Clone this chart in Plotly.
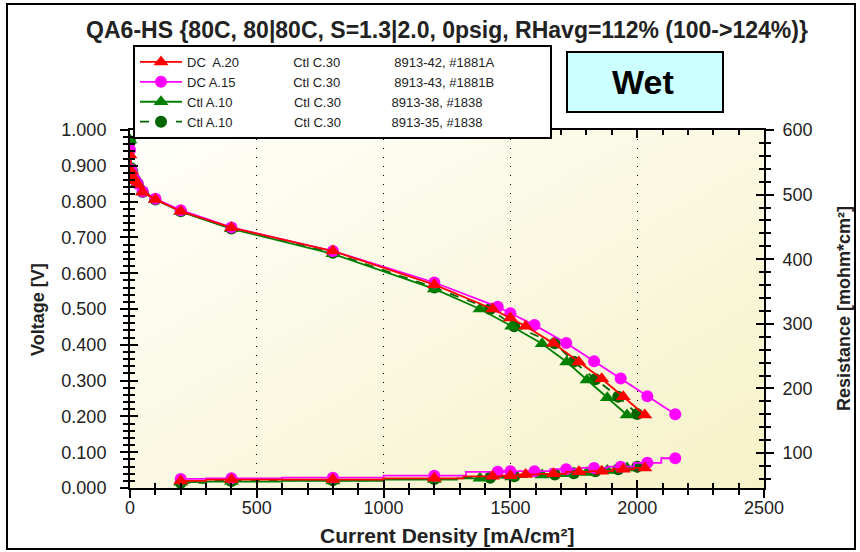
import base64
import plotly.graph_objects as go

TITLE = "QA6-HS {80C, 80|80C, S=1.3|2.0, 0psig, RHavg=112% (100->124%)}"

# ---- polarization curves: current density [mA/cm²] -> cell voltage [V]
i_dc20 = [0, 5, 10, 20, 30, 50, 100, 200, 400, 800, 1200, 1430, 1500, 1560, 1670, 1770, 1860, 1945, 2030]
v_dc20 = [0.930, 0.885, 0.870, 0.858, 0.848, 0.826, 0.806, 0.773, 0.727, 0.662, 0.568, 0.500, 0.475, 0.452, 0.404, 0.352, 0.305, 0.255, 0.204]

i_dc15 = [0, 5, 10, 20, 30, 50, 100, 200, 400, 800, 1200, 1450, 1500, 1595, 1720, 1830, 1935, 2040, 2150]
v_dc15 = [0.944, 0.890, 0.875, 0.860, 0.850, 0.828, 0.808, 0.776, 0.728, 0.662, 0.574, 0.506, 0.488, 0.455, 0.405, 0.354, 0.306, 0.256, 0.206]

i_ctl38 = [0, 5, 10, 20, 30, 50, 100, 200, 400, 800, 1200, 1380, 1505, 1625, 1722, 1802, 1882, 1960]
v_ctl38 = [0.972, 0.895, 0.878, 0.862, 0.852, 0.828, 0.806, 0.772, 0.724, 0.654, 0.556, 0.500, 0.452, 0.403, 0.352, 0.302, 0.252, 0.204]

i_ctl35 = [0, 5, 10, 20, 30, 50, 100, 200, 400, 800, 1200, 1420, 1515, 1675, 1750, 1835, 1925, 2000]
v_ctl35 = [0.968, 0.893, 0.877, 0.861, 0.851, 0.827, 0.806, 0.773, 0.725, 0.657, 0.560, 0.500, 0.452, 0.404, 0.353, 0.304, 0.255, 0.207]

# ---- high-frequency resistance [mohm*cm²]
ir_dc20 = [200, 400, 800, 1200, 1430, 1500, 1560, 1670, 1770, 1860, 1945, 2030]
r_dc20 = [57, 59, 59, 61, 64, 65, 67, 68, 71, 72, 75, 77]

ir_dc15 = [200, 400, 800, 1200, 1450, 1500, 1595, 1720, 1830, 1935, 2040, 2150]
r_dc15 = [60, 61, 62, 65, 71, 72, 72, 75, 77, 79, 85, 92]

ir_ctl38 = [200, 400, 800, 1200, 1380, 1505, 1625, 1722, 1802, 1882, 1960]
r_ctl38 = [55, 56, 57, 59, 61, 63, 66, 68, 70, 73, 77]

ir_ctl35 = [200, 400, 800, 1200, 1420, 1515, 1675, 1750, 1835, 1925, 2000]
r_ctl35 = [54, 57, 58, 60, 62, 64, 67, 69, 72, 75, 79]

# ---- legend columns
anode_labels = ["DC  A.20", "DC A.15", "Ctl A.10", "Ctl A.10"]
cathode_labels = ["Ctl C.30", "Ctl C.30", "Ctl C.30", "Ctl C.30"]
cell_labels = ["8913-42, #1881A", "8913-43, #1881B", "8913-38, #1838", "8913-35, #1838"]

FONT = "Liberation Sans, Arial, sans-serif"
LEG_SIZE = 13

# Arial/Liberation Sans advance widths (1/1000 em) for padding legend columns
_W = {"D": 722, "C": 722, "A": 667, "B": 667, ".": 278, "t": 278, "l": 222,
      " ": 278, "\u00a0": 278, "-": 333, ",": 278, "#": 556}


def text_width(s, size):
    return sum(_W.get(ch, 556) for ch in s) * size / 1000.0


def pad_to(s, target_px, size):
    gap = target_px - text_width(s, size)
    n = max(1, int(round(gap / (0.278 * size))))
    return s + "\u00a0" * n


def legend_name(a, c, cell):
    first = pad_to(a, 107, LEG_SIZE)
    second = pad_to(first + c, 207, LEG_SIZE)
    return pad_to(second + cell, 357, LEG_SIZE)


names = [legend_name(a, c, n) for a, c, n in zip(anode_labels, cathode_labels, cell_labels)]

# plot-area geometry (px) used to place boxes given in page pixels
W, H = 860, 552
L, R, T, B = 130, 96, 130, 64
PW, PH = W - L - R, H - T - B


def px_x(px):
    return (px - L) / PW


def px_y(py):
    return (H - B - py) / PH


series = [
    # (name, I, V, I_r, R, color, symbol, dash)
    (names[3], i_ctl35, v_ctl35, ir_ctl35, r_ctl35, "#006400", "circle", "dash"),
    (names[2], i_ctl38, v_ctl38, ir_ctl38, r_ctl38, "#008000", "triangle-up", "solid"),
    (names[1], i_dc15, v_dc15, ir_dc15, r_dc15, "#FF00FF", "circle", "solid"),
    (names[0], i_dc20, v_dc20, ir_dc20, r_dc20, "#FF0000", "triangle-up", "solid"),
]

fig = go.Figure()
for name, I, V, IR, RR, col, sym, dash in series:
    msize = 12 if sym == "circle" else 13
    fig.add_trace(go.Scatter(
        x=I, y=V, name=name, mode="lines+markers",
        line=dict(color=col, width=1.8, dash=dash),
        marker=dict(symbol=sym, size=msize, color=col),
        legendgroup=name, xaxis="x", yaxis="y",
    ))
for name, I, V, IR, RR, col, sym, dash in series:
    msize = 12 if sym == "circle" else 13
    fig.add_trace(go.Scatter(
        x=IR, y=RR, name=name, mode="lines+markers",
        line=dict(color=col, width=1.8, dash=dash, shape="hvh"),
        marker=dict(symbol=sym, size=msize, color=col),
        legendgroup=name, showlegend=False, xaxis="x", yaxis="y2",
    ))

# empty traces that register the overlay axes carrying the inner tick marks
fig.add_trace(go.Scatter(x=[], y=[], xaxis="x2", yaxis="y3", showlegend=False, hoverinfo="skip"))
fig.add_trace(go.Scatter(x=[], y=[], xaxis="x", yaxis="y4", showlegend=False, hoverinfo="skip"))

XR = [0, 2500]
YR = [0, 1.0]
Y2R = [46, 600]
tickfont = dict(family=FONT, size=18, color="#222")
axtitle_h = dict(family=FONT, size=21, color="#222")
axtitle_v = dict(family=FONT, size=18, color="#222")

common = dict(showline=True, linecolor="black", linewidth=2, zeroline=False,
              ticks="outside", ticklen=8, tickwidth=1.5, tickcolor="black")

fig.update_layout(
    width=W, height=H,
    margin=dict(l=L, r=R, t=T, b=B),
    paper_bgcolor="white",
    plot_bgcolor="rgba(0,0,0,0)",
    font=dict(family=FONT, color="#222"),
    showlegend=True,
    title=dict(text="<b>" + TITLE + "</b>", x=0.5, xref="paper", y=1 - 30 / H, yanchor="middle",
               xanchor="center", font=dict(family=FONT, size=23, color="#222")),
    xaxis=dict(range=XR, tick0=0, dtick=500, tickformat="d", tickfont=tickfont,
               showgrid=True, gridcolor="black", gridwidth=1.3, griddash="1px,8px",
               minor=dict(dtick=100, ticks="outside", ticklen=5, tickcolor="black", showgrid=False),
               ticklabelstandoff=-6, **common),
    xaxis2=dict(range=XR, overlaying="x", side="bottom", tick0=0, dtick=500, showticklabels=False,
                showgrid=False, zeroline=False, showline=True, linecolor="black", linewidth=2,
                ticks="inside", ticklen=8, tickwidth=1.5, tickcolor="black", mirror="ticks",
                minor=dict(dtick=100, ticks="inside", ticklen=5, tickcolor="black")),
    yaxis=dict(range=YR, tick0=0, dtick=0.1, tickformat=".3f", tickfont=tickfont, showgrid=False,
               minor=dict(dtick=0.02, ticks="outside", ticklen=5, tickcolor="black"),
               ticklabelstandoff=10, **common),
    yaxis2=dict(range=Y2R, overlaying="y", side="right", tick0=0, dtick=100, tickfont=tickfont,
                showgrid=False, minor=dict(dtick=20, tick0=0, ticks="outside", ticklen=5, tickcolor="black"),
                ticklabelstandoff=5, **common),
    yaxis3=dict(range=YR, overlaying="y", side="left", tick0=0, dtick=0.1, showticklabels=False,
                showgrid=False, zeroline=False, showline=False,
                ticks="inside", ticklen=8, tickwidth=1.5, tickcolor="black",
                minor=dict(dtick=0.02, ticks="inside", ticklen=5, tickcolor="black")),
    yaxis4=dict(range=Y2R, overlaying="y", side="right", tick0=0, dtick=100, showticklabels=False,
                showgrid=False, zeroline=False, showline=False,
                ticks="inside", ticklen=8, tickwidth=1.5, tickcolor="black",
                minor=dict(dtick=20, tick0=0, ticks="inside", ticklen=5, tickcolor="black")),
    legend=dict(x=px_x(133), y=px_y(45), xanchor="left", yanchor="top",
                bgcolor="white", bordercolor="black", borderwidth=2,
                font=dict(family=FONT, size=LEG_SIZE, color="#222"),
                traceorder="reversed", itemwidth=42, tracegroupgap=0),
)

# soft cream gradient behind the plotting area
svg = ('<svg xmlns="http://www.w3.org/2000/svg" viewBox="0 0 100 100" preserveAspectRatio="none">'
       '<defs><linearGradient id="g" x1="0" y1="0" x2="1" y2="1">'
       '<stop offset="0" stop-color="#FFFFFB"/><stop offset="1" stop-color="#F6F2C8"/>'
       '</linearGradient></defs><rect width="100" height="100" fill="url(#g)"/></svg>')
fig.add_layout_image(dict(source="data:image/svg+xml;base64," + base64.b64encode(svg.encode()).decode(),
                          xref="paper", yref="paper", x=0, y=1, sizex=1, sizey=1,
                          xanchor="left", yanchor="top", sizing="stretch", layer="below"))

# outer frame and the "Wet" tag
fig.add_shape(type="rect", xref="paper", yref="paper",
              x0=px_x(7), x1=px_x(855), y0=px_y(549), y1=px_y(4),
              line=dict(color="black", width=2), fillcolor="rgba(0,0,0,0)", layer="below")
fig.add_shape(type="rect", xref="paper", yref="paper",
              x0=px_x(567), x1=px_x(723), y0=px_y(112), y1=px_y(52),
              line=dict(color="black", width=2), fillcolor="#CCFFFF")
fig.add_annotation(text="<b>Wet</b>", xref="paper", yref="paper", x=px_x(643), y=px_y(82),
                   xanchor="center", yanchor="middle",
                   showarrow=False, font=dict(family=FONT, size=34, color="black"))

# axis titles
fig.add_annotation(text="<b>Current Density [mA/cm²]</b>", xref="paper", yref="paper",
                   x=0.5, y=px_y(535), xanchor="center", yanchor="middle",
                   showarrow=False, font=axtitle_h)
fig.add_annotation(text="<b>Voltage [V]</b>", xref="paper", yref="paper", textangle=-90,
                   x=px_x(38), y=0.5, xanchor="center", yanchor="middle",
                   showarrow=False, font=axtitle_v)
fig.add_annotation(text="<b>Resistance [mohm*cm²]</b>", xref="paper", yref="paper", textangle=-90,
                   x=px_x(844), y=0.5, xanchor="center", yanchor="middle",
                   showarrow=False, font=axtitle_v)

fig.write_html("out.html")
